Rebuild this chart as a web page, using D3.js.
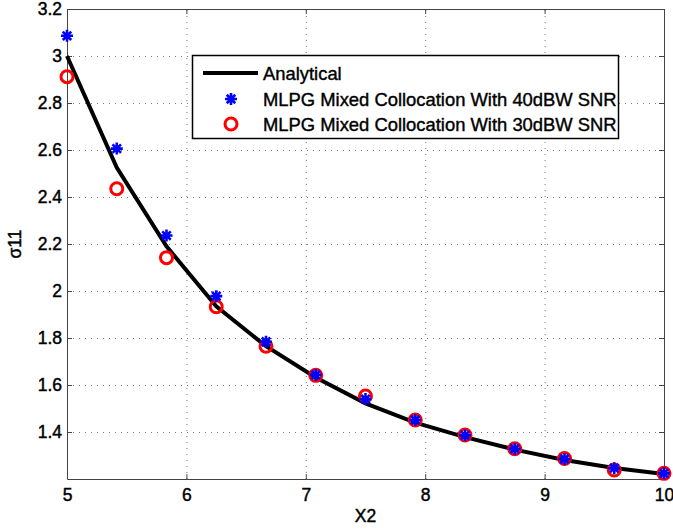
<!DOCTYPE html>
<html>
<head>
<meta charset="utf-8">
<script src="https://cdn.jsdelivr.net/npm/d3@7"></script>
<style>
  body { margin: 0; background: #fff; }
  svg { font-family: "Liberation Sans", Arial, sans-serif; }
  .tick text { font-size: 17.5px; fill: #000; stroke: #000; stroke-width: 0.45px; }
</style>
</head>
<body>
<svg id="chart" width="673" height="530"></svg>
<script>
///////////////////////////////////////////////////////////
// Data
const xValues = [5, 5.4167, 5.8333, 6.25, 6.6667, 7.0833, 7.5, 7.9167, 8.3333, 8.75, 9.1667, 9.5833, 10];
const analytical = [3.0, 2.525, 2.19, 1.935, 1.765, 1.632, 1.522, 1.44, 1.378, 1.325, 1.281, 1.247, 1.221];
const snr40 = [3.086, 2.606, 2.236, 1.978, 1.784, 1.643, 1.54, 1.451, 1.386, 1.328, 1.285, 1.246, 1.224];
const snr30 = [2.912, 2.435, 2.142, 1.933, 1.765, 1.641, 1.553, 1.451, 1.387, 1.329, 1.287, 1.238, 1.224];
const xTicks = [5, 6, 7, 8, 9, 10];
const yTicks = [1.4, 1.6, 1.8, 2, 2.2, 2.4, 2.6, 2.8, 3, 3.2];
const legendLabels = ["Analytical", "MLPG Mixed Collocation With 40dBW SNR", "MLPG Mixed Collocation With 30dBW SNR"];

const margin = { top: 9, right: 9, bottom: 51, left: 67 };
const width = 673, height = 530;

const svg = d3.select("#chart");

const x = d3.scaleLinear().domain([5, 10]).range([margin.left, width - margin.right]);
const y = d3.scaleLinear().domain([1.2, 3.2]).range([height - margin.bottom, margin.top]);

///////////////////////////////////////////////////////////
// Grid
const grid = svg.append("g").attr("stroke", "#777").attr("stroke-width", 1)
  .attr("stroke-dasharray", "1,5");
grid.selectAll(".gx").data(xTicks.slice(1, -1)).enter().append("line")
  .attr("x1", d => x(d) + 0.5).attr("x2", d => x(d) + 0.5)
  .attr("y1", y(1.2)).attr("y2", y(3.2));
grid.selectAll(".gy").data(yTicks.slice(0, -1)).enter().append("line")
  .attr("y1", d => y(d) + 0.5).attr("y2", d => y(d) + 0.5)
  .attr("x1", x(5)).attr("x2", x(10));

///////////////////////////////////////////////////////////
// Axes (ticks point inwards, box all round)
const fmt = d => d3.format("")(d);
svg.append("g").attr("transform", `translate(0,${y(1.2)})`)
  .call(d3.axisBottom(x).tickValues(xTicks).tickSizeInner(-5).tickSizeOuter(0).tickPadding(10).tickFormat(fmt));
svg.append("g").attr("transform", `translate(0,${y(3.2)})`)
  .call(d3.axisTop(x).tickValues(xTicks).tickSizeInner(-5).tickSizeOuter(0).tickFormat(""));
svg.append("g").attr("transform", `translate(${x(5)},0)`)
  .call(d3.axisLeft(y).tickValues(yTicks).tickSizeInner(-5).tickSizeOuter(0).tickPadding(5).tickFormat(fmt));
svg.append("g").attr("transform", `translate(${x(10)},0)`)
  .call(d3.axisRight(y).tickValues(yTicks).tickSizeInner(-5).tickSizeOuter(0).tickFormat(""));
svg.selectAll(".domain").attr("stroke", "#444");
svg.selectAll(".tick line").attr("stroke", "#444");

svg.append("text").attr("x", (x(5) + x(10)) / 2).attr("y", 522)
  .attr("text-anchor", "middle").attr("font-size", 17.5)
  .attr("stroke", "#000").attr("stroke-width", 0.45).text("X2");
svg.append("text").attr("transform", `translate(21,${(y(1.2) + y(3.2)) / 2}) rotate(-90)`)
  .attr("text-anchor", "middle").attr("font-size", 17.5)
  .attr("stroke", "#000").attr("stroke-width", 0.45).text("σ11");

///////////////////////////////////////////////////////////
// Analytical curve
const line = d3.line().x((d, i) => x(xValues[i])).y(d => y(d));
svg.append("path").datum(analytical)
  .attr("fill", "none").attr("stroke", "#000").attr("stroke-width", 4)
  .attr("d", line);

// Markers: matlab style 8-arm asterisk and open circle
const starPath = (function () {
  const r = 6, d = r * Math.SQRT1_2;
  return `M${-r},0L${r},0M0,${-r}L0,${r}M${-d},${-d}L${d},${d}M${-d},${d}L${d},${-d}`;
})();
function drawCircles(g, vals) {
  g.selectAll("circle").data(vals).enter().append("circle")
    .attr("cx", (d, i) => x(xValues[i])).attr("cy", d => y(d))
    .attr("r", 6).attr("fill", "none").attr("stroke", "#ff0000").attr("stroke-width", 3);
}
function drawStars(g, vals) {
  g.selectAll("path").data(vals).enter().append("path")
    .attr("transform", (d, i) => `translate(${x(xValues[i])},${y(d)})`)
    .attr("d", starPath).attr("fill", "none").attr("stroke", "#0000ff").attr("stroke-width", 2.6);
}
drawCircles(svg.append("g"), snr30);
drawStars(svg.append("g"), snr40);

///////////////////////////////////////////////////////////
// Legend
const legend = svg.append("g");
legend.append("rect").attr("x", 192.5).attr("y", 55.5).attr("width", 426).attr("height", 83)
  .attr("fill", "#fff").attr("stroke", "#000").attr("stroke-width", 1.5);
const rowY = [73, 99, 124];
legend.append("line").attr("x1", 203).attr("x2", 258).attr("y1", rowY[0]).attr("y2", rowY[0])
  .attr("stroke", "#000").attr("stroke-width", 4);
legend.append("path").attr("transform", `translate(231,${rowY[1]})`)
  .attr("d", starPath).attr("fill", "none").attr("stroke", "#0000ff").attr("stroke-width", 2.6);
legend.append("circle").attr("cx", 231).attr("cy", rowY[2]).attr("r", 6)
  .attr("fill", "none").attr("stroke", "#ff0000").attr("stroke-width", 3);
legend.selectAll(".lt").data(legendLabels).enter().append("text")
  .attr("x", 263).attr("y", (d, i) => rowY[i] + 6.5)
  .attr("font-size", 18.4).attr("stroke", "#000").attr("stroke-width", 0.4)
  .text(d => d);
</script>
</body>
</html>
